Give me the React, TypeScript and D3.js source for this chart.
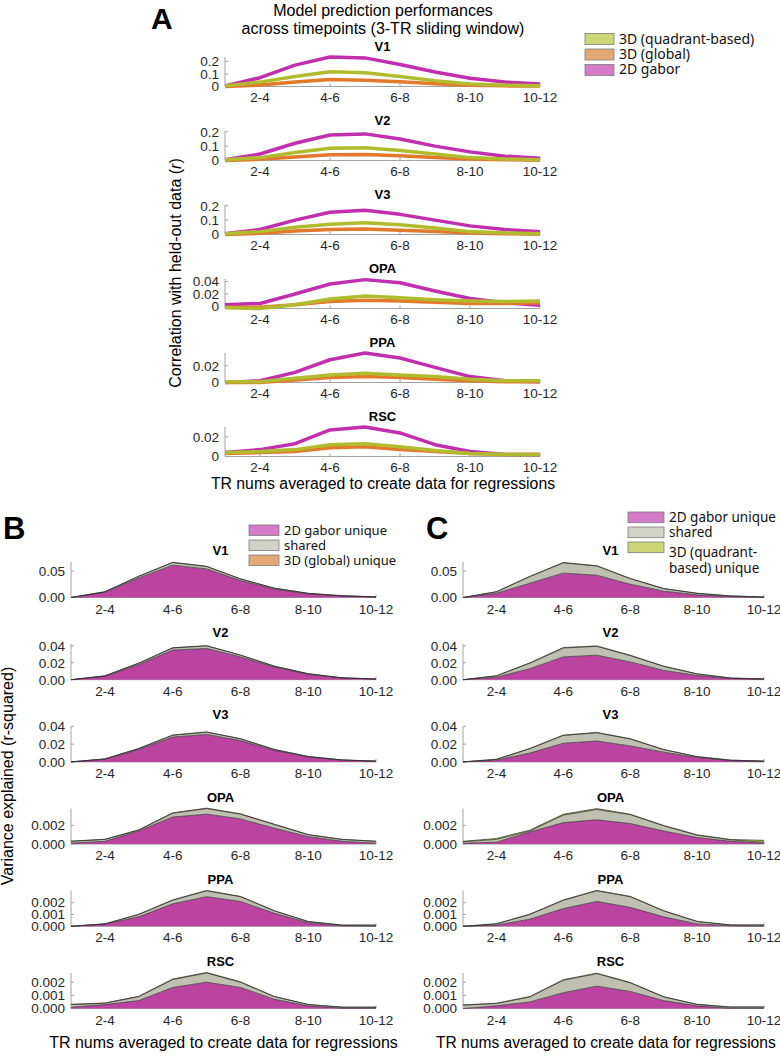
import React from 'react'
import * as d3 from 'd3'

// sliding windows (3 TRs each), tick labels every other window
const timepoints = [1, 2, 3, 4, 5, 6, 7, 8, 9, 10]
const tickIdx = [2, 4, 6, 8, 10]
const tickLabels = ['2-4', '4-6', '6-8', '8-10', '10-12']
const rois = ['V1', 'V2', 'V3', 'OPA', 'PPA', 'RSC']

// A: prediction correlation (r) per ROI
const gaborR = [
  [0.005, 0.07, 0.17, 0.235, 0.228, 0.175, 0.115, 0.065, 0.035, 0.02],
  [0.005, 0.045, 0.12, 0.177, 0.185, 0.15, 0.1, 0.06, 0.03, 0.015],
  [0.005, 0.035, 0.1, 0.155, 0.168, 0.14, 0.1, 0.06, 0.035, 0.02],
  [0.003, 0.005, 0.02, 0.036, 0.043, 0.038, 0.025, 0.013, 0.006, 0.002],
  [0, 0.002, 0.012, 0.027, 0.035, 0.029, 0.018, 0.007, 0.002, 0.001],
  [0.004, 0.007, 0.013, 0.027, 0.03, 0.024, 0.012, 0.005, 0.002, 0.002],
]
const quadR = [
  [0.005, 0.035, 0.08, 0.118, 0.11, 0.08, 0.045, 0.02, 0.01, 0.005],
  [0.005, 0.02, 0.055, 0.085, 0.088, 0.07, 0.045, 0.02, 0.01, 0.005],
  [0.005, 0.02, 0.05, 0.072, 0.082, 0.068, 0.045, 0.02, 0.01, 0.005],
  [-0.002, -0.003, 0.003, 0.012, 0.017, 0.014, 0.011, 0.009, 0.008, 0.009],
  [0.001, 0.001, 0.005, 0.009, 0.011, 0.009, 0.007, 0.004, 0.002, 0.002],
  [0.004, 0.005, 0.007, 0.012, 0.013, 0.01, 0.006, 0.003, 0.002, 0.002],
]
const globalR = [
  [0, 0.012, 0.035, 0.055, 0.05, 0.037, 0.022, 0.01, 0.005, 0.003],
  [0, 0.008, 0.025, 0.04, 0.042, 0.033, 0.02, 0.01, 0.005, 0.002],
  [0, 0.008, 0.024, 0.035, 0.038, 0.03, 0.02, 0.01, 0.005, 0.002],
  [-0.001, -0.001, 0.003, 0.008, 0.01, 0.009, 0.007, 0.005, 0.005, 0.006],
  [0, 0, 0.003, 0.006, 0.007, 0.006, 0.004, 0.002, 0.001, 0.001],
  [0.003, 0.004, 0.005, 0.009, 0.01, 0.007, 0.005, 0.003, 0.002, 0.002],
]
const aYDomain = [[0, 0.235], [0, 0.205], [0, 0.205], [-0.003, 0.044], [0, 0.035], [0, 0.03]]
const aYTicks = [[0, 0.1, 0.2], [0, 0.1, 0.2], [0, 0.1, 0.2], [0, 0.02, 0.04], [0, 0.02], [0, 0.02]]

// B: variance partitioning, 2D gabor vs 3D (global)
const bGabor = [
  [0, 0.01, 0.037, 0.061, 0.054, 0.032, 0.016, 0.007, 0.003, 0.001],
  [0, 0.004, 0.018, 0.035, 0.037, 0.027, 0.015, 0.0065, 0.002, 0.0008],
  [0, 0.003, 0.014, 0.028, 0.031, 0.024, 0.013, 0.0055, 0.002, 0.0008],
  [0.0001, 0.0003, 0.0014, 0.0029, 0.0032, 0.0027, 0.0017, 0.0008, 0.0003, 0.0001],
  [0, 0.0002, 0.0008, 0.0019, 0.0025, 0.0021, 0.0011, 0.0003, 0.00005, 0],
  [0.0001, 0.0003, 0.0006, 0.0016, 0.002, 0.0016, 0.0007, 0.0002, 0.00003, 0.00003],
]
const bShared = [
  [0, 0.0008, 0.003, 0.005, 0.0045, 0.003, 0.0015, 0.0008, 0.0003, 0.0001],
  [0, 0.0005, 0.0015, 0.0025, 0.003, 0.002, 0.001, 0.0005, 0.0002, 0.0001],
  [0, 0.0003, 0.001, 0.002, 0.0025, 0.002, 0.001, 0.0005, 0.0002, 0.0001],
  [0.0002, 0.0002, 0.0001, 0.0004, 0.0006, 0.0005, 0.0004, 0.0002, 0.0002, 0.0002],
  [0, 0, 0.0002, 0.0003, 0.0005, 0.0004, 0.0002, 0.0001, 0.00005, 0.0001],
  [0.0002, 0.0001, 0.0003, 0.0006, 0.0007, 0.0004, 0.0002, 0.0001, 0.00007, 0.00007],
]
const bGlobal = [
  [0, 0.0001, 0.0003, 0.0005, 0.0005, 0.0003, 0.0002, 0.0001, 0, 0],
  [0, 0.0001, 0.0002, 0.0003, 0.0003, 0.0002, 0.0001, 0.0001, 0, 0],
  [0, 0.0001, 0.0002, 0.0003, 0.0003, 0.0002, 0.0001, 0.0001, 0, 0],
  [0.00002, 0.00002, 0.00003, 0.00005, 0.00005, 0.00005, 0.00003, 0.00002, 0.00001, 0.00001],
  [0, 0, 0.00002, 0.00003, 0.00003, 0.00003, 0.00002, 0.00001, 0, 0],
  [0.00002, 0.00002, 0.00003, 0.00004, 0.00004, 0.00003, 0.00002, 0.00001, 0, 0],
]

// C: variance partitioning, 2D gabor vs 3D (quadrant-based)
const cGabor = [
  [0, 0.008, 0.027, 0.046, 0.042, 0.025, 0.012, 0.005, 0.002, 0.0005],
  [0, 0.003, 0.013, 0.027, 0.029, 0.021, 0.011, 0.005, 0.0015, 0.0005],
  [0, 0.002, 0.01, 0.021, 0.0235, 0.018, 0.011, 0.005, 0.0015, 0.0005],
  [0.0001, 0.0002, 0.0013, 0.0023, 0.0026, 0.0022, 0.0014, 0.0007, 0.0003, 0.0001],
  [0, 0.0001, 0.0006, 0.0015, 0.0021, 0.0016, 0.0008, 0.0002, 0.00005, 0],
  [0, 0.0002, 0.0005, 0.0012, 0.0017, 0.0013, 0.0006, 0.0002, 0.00002, 0.00002],
]
const cShared = [
  [0, 0.0028, 0.0125, 0.0195, 0.0175, 0.0105, 0.0048, 0.0028, 0.0009, 0.0004],
  [0, 0.0015, 0.0065, 0.0105, 0.0105, 0.0075, 0.0048, 0.0018, 0.0004, 0.0004],
  [0, 0.0008, 0.0048, 0.0088, 0.0093, 0.0078, 0.0028, 0.0008, 0.0004, 0.0004],
  [0.00015, 0.0003, 0.0001, 0.0008, 0.0011, 0.00095, 0.00055, 0.00025, 0.00015, 0.0001],
  [0, 0.0001, 0.0004, 0.0007, 0.0009, 0.0009, 0.0005, 0.0002, 0.00005, 0.0001],
  [0.00025, 0.00018, 0.00038, 0.00095, 0.00095, 0.00065, 0.00028, 0.0001, 0.00008, 0.00008],
]
const cQuad = [
  [0, 0.0002, 0.0005, 0.0005, 0.0005, 0.0005, 0.0002, 0.0002, 0.0001, 0.0001],
  [0, 0.0002, 0.0005, 0.0005, 0.0005, 0.0005, 0.0002, 0.0002, 0.0001, 0.0001],
  [0, 0.0002, 0.0004, 0.0004, 0.0004, 0.0004, 0.0002, 0.0002, 0.0001, 0.0001],
  [0.00005, 0.0001, 0.0001, 0.0001, 0.0001, 0.00005, 0.00005, 0.00005, 0.00005, 0.0002],
  [0, 0.00002, 0.00003, 0.00003, 0.00003, 0.00003, 0.00002, 0.00002, 0.00002, 0.00002],
  [0.00002, 0.00002, 0.00003, 0.00004, 0.00004, 0.00003, 0.00002, 0.00002, 0.00002, 0.00002],
]
const bcYDomain = [[0, 0.067], [0, 0.042], [0, 0.04], [0, 0.0038], [0, 0.003], [0, 0.0027]]
const bcYTicks = [[0, 0.05], [0, 0.02, 0.04], [0, 0.02, 0.04], [0, 0.002], [0, 0.001, 0.002], [0, 0.001, 0.002]]
const bcTickFmt = ['.2f', '.2f', '.2f', '.3f', '.3f', '.3f']

const FONT = '"Liberation Sans", Arial, Helvetica, sans-serif'
const LEG_FONT = '"Noto Sans", "Open Sans", sans-serif'
const AXIS = '#a3a3a3'
const TICK_TXT = '#262626'

const lineColor = { gabor: '#c22fae', quad: '#b0bc2d', global: '#e2792b' }
const fillColor = { gabor: '#ba449f', shared: '#bfbfb2', global: '#e3a35e', quad: '#c8cf52' }
const patchColor = { gabor: '#d47bc7', shared: '#d2d3c7', global: '#e4a874', quad: '#cdd676' }

const aTop = (i: number) => 57 + i * 74
const aH = 29.5
const bTop = (i: number) => 562 + i * 82.2
const bH = 35.5

function Axes({ x, y, ticks, fmt, x0, x1, top, bottom, tickBase }: any) {
  return (
    <g>
      <line x1={x0} x2={x0} y1={top} y2={bottom} stroke={AXIS} strokeWidth={1} />
      <line x1={x0} x2={x1} y1={bottom} y2={bottom} stroke={AXIS} strokeWidth={1} />
      {ticks.map((t: number) => (
        <g key={'y' + t}>
          <line x1={x0} x2={x0 + 3} y1={y(t)} y2={y(t)} stroke={AXIS} />
          <text x={x0 - 6} y={y(t)} dy="0.36em" textAnchor="end" fontSize={13.5} fill={TICK_TXT} fontFamily={FONT}>
            {fmt(t)}
          </text>
        </g>
      ))}
      {tickIdx.map((t, k) => (
        <g key={'x' + t}>
          <line x1={x(t)} x2={x(t)} y1={bottom} y2={bottom - 3} stroke={AXIS} />
          <text x={x(t)} y={bottom + tickBase} textAnchor="middle" fontSize={13.5} fill={TICK_TXT} fontFamily={FONT}>
            {tickLabels[k]}
          </text>
        </g>
      ))}
    </g>
  )
}

function LineRow({ i }: { i: number }) {
  const x = d3.scaleLinear().domain([1, 10]).range([225, 540])
  const top = aTop(i)
  const y = d3.scaleLinear().domain(aYDomain[i]).range([top + aH, top])
  const line = d3
    .line<number>()
    .x((_, j) => x(timepoints[j]))
    .y((d) => y(d))
  const series = [
    { key: 'gabor', vals: gaborR[i] },
    { key: 'global', vals: globalR[i] },
    { key: 'quad', vals: quadR[i] },
  ]
  return (
    <g>
      <text x={382.5} y={top - 6.3} textAnchor="middle" fontSize={13} fontWeight="bold" fontFamily={FONT}>
        {rois[i]}
      </text>
      <Axes x={x} y={y} ticks={aYTicks[i]} fmt={(v: number) => String(v)} x0={225} x1={540} top={top} bottom={top + aH} tickBase={15} />
      {series.map((s) => (
        <path key={s.key} d={line(s.vals) || ''} fill="none" stroke={(lineColor as any)[s.key]} strokeWidth={3.5} strokeLinejoin="round" />
      ))}
    </g>
  )
}

function AreaRow({ i, x0, x1, gabor, shared, uniq, uniqKey }: any) {
  const x = d3.scaleLinear().domain([1, 10]).range([x0, x1])
  const top = bTop(i)
  const y = d3.scaleLinear().domain(bcYDomain[i]).range([top + bH, top])
  const rows = timepoints.map((t, j) => ({ t, gabor: gabor[i][j], shared: shared[i][j], uniq: uniq[i][j] }))
  const stacked = d3.stack<any>().keys(['gabor', 'shared', 'uniq'])(rows)
  const area = d3
    .area<any>()
    .x((d) => x(d.data.t))
    .y0((d) => y(d[0]))
    .y1((d) => y(d[1]))
  const edge = d3
    .line<any>()
    .x((d) => x(d.data.t))
    .y((d) => y(d[1]))
  const fills = [fillColor.gabor, fillColor.shared, (fillColor as any)[uniqKey]]
  const fmt = d3.format(bcTickFmt[i])
  return (
    <g>
      <text x={(x0 + x1) / 2 - 3} y={top - 7} textAnchor="middle" fontSize={13} fontWeight="bold" fontFamily={FONT}>
        {rois[i]}
      </text>
      <Axes x={x} y={y} ticks={bcYTicks[i]} fmt={fmt} x0={x0} x1={x1} top={top} bottom={top + bH} tickBase={16} />
      {stacked.map((layer, k) => (
        <path key={'a' + k} d={area(layer) || ''} fill={fills[k]} stroke="none" />
      ))}
      {stacked.map((layer, k) => (
        <path key={'e' + k} d={edge(layer) || ''} fill="none" stroke="#2e2e2e" strokeWidth={0.7} />
      ))}
    </g>
  )
}

function Legend({ x, w, h, tops, color, lines, fontSize }: any) {
  return (
    <g>
      {tops.map((t: number, k: number) => (
        <rect key={k} x={x} y={t} width={w} height={h} fill={color[k]} stroke="#7d7d7d" strokeWidth={0.8} />
      ))}
      {lines.map((l: any, k: number) => (
        <text key={'t' + k} x={x + w + 5} y={l.y} fontSize={fontSize} fontFamily={LEG_FONT} fill="#111">
          {l.text}
        </text>
      ))}
    </g>
  )
}

export default function App() {
  return (
    <svg width={780} height={1058} style={{ position: 'absolute', left: 0, top: 0, background: '#fff' }}>
      <rect width={780} height={1058} fill="#fff" />

      {/* panel A */}
      <text x={151} y={28.5} fontSize={30} fontWeight="bold" fontFamily={FONT}>A</text>
      <text x={383} y={15.5} textAnchor="middle" fontSize={16} fontFamily={FONT}>Model prediction performances</text>
      <text x={383} y={33.5} textAnchor="middle" fontSize={16} fontFamily={FONT}>across timepoints (3-TR sliding window)</text>
      {rois.map((_, i) => (
        <LineRow key={i} i={i} />
      ))}
      <text x={383} y={489} textAnchor="middle" fontSize={15.8} fontFamily={FONT}>TR nums averaged to create data for regressions</text>
      <text transform="translate(181,273) rotate(-90)" textAnchor="middle" fontSize={16} fontFamily={FONT}>
        Correlation with held-out data (<tspan fontStyle="italic">r</tspan>)
      </text>
      <Legend
        x={585}
        w={29}
        h={11}
        tops={[33.5, 49, 64.5]}
        color={[patchColor.quad, patchColor.global, patchColor.gabor]}
        lines={[
          { text: '3D (quadrant-based)', y: 43.5 },
          { text: '3D (global)', y: 58.5 },
          { text: '2D gabor', y: 73.5 },
        ]}
        fontSize={14}
      />

      {/* panel B */}
      <text x={3} y={539} fontSize={31} fontWeight="bold" fontFamily={FONT}>B</text>
      {rois.map((_, i) => (
        <AreaRow key={i} i={i} x0={71} x1={376} gabor={bGabor} shared={bShared} uniq={bGlobal} uniqKey="global" />
      ))}
      <text x={223.5} y={1048} textAnchor="middle" fontSize={16} fontFamily={FONT}>TR nums averaged to create data for regressions</text>
      <text transform="translate(13,776) rotate(-90)" textAnchor="middle" fontSize={16} fontFamily={FONT}>
        Variance explained (r-squared)
      </text>
      <Legend
        x={249}
        w={30}
        h={10.5}
        tops={[525, 540, 555]}
        color={[patchColor.gabor, patchColor.shared, patchColor.global]}
        lines={[
          { text: '2D gabor unique', y: 534.5 },
          { text: 'shared', y: 549.5 },
          { text: '3D (global) unique', y: 565 },
        ]}
        fontSize={13}
      />

      {/* panel C */}
      <text x={426} y={539} fontSize={31} fontWeight="bold" fontFamily={FONT}>C</text>
      {rois.map((_, i) => (
        <AreaRow key={i} i={i} x0={463} x1={764} gabor={cGabor} shared={cShared} uniq={cQuad} uniqKey="quad" />
      ))}
      <text x={436} y={1048} textAnchor="start" fontSize={15.6} fontFamily={FONT}>TR nums averaged to create data for regressions</text>
      <Legend
        x={628}
        w={36}
        h={10.7}
        tops={[512, 527, 542]}
        color={[patchColor.gabor, patchColor.shared, patchColor.quad]}
        lines={[
          { text: '2D gabor unique', y: 521.7 },
          { text: 'shared', y: 537.3 },
          { text: '3D (quadrant-', y: 556.7 },
          { text: 'based) unique', y: 572.7 },
        ]}
        fontSize={13.5}
      />
    </svg>
  )
}
